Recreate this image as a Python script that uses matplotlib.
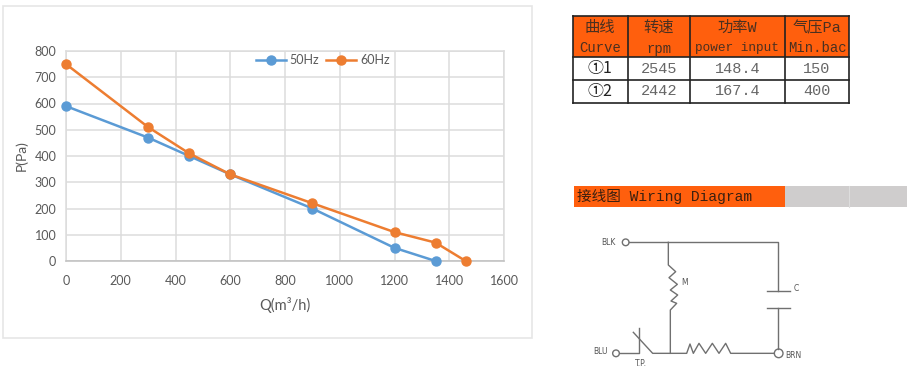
import matplotlib
matplotlib.use("Agg")
import matplotlib.pyplot as plt
from matplotlib.patches import Rectangle, Circle

W, H = 911, 372

# chart data
q_50 = [0, 300, 450, 600, 900, 1200, 1350]
p_50 = [590, 470, 400, 330, 200, 50, 0]
q_60 = [0, 300, 450, 600, 900, 1200, 1350, 1460]
p_60 = [750, 510, 410, 330, 220, 110, 70, 0]
x_ticks = [0, 200, 400, 600, 800, 1000, 1200, 1400, 1600]
y_ticks = [0, 100, 200, 300, 400, 500, 600, 700, 800]

# table data
table_head_cn = ["曲线", "转速", "功率W", "气压Pa"]
table_head_en = ["Curve", "rpm", "power input", "Min.bac"]
table_curve = ["①1", "①2"]
table_rpm = ["2545", "2442"]
table_power = ["148.4", "167.4"]
table_press = ["150", "400"]

TEXT = "#595959"
GRID = "#DCDCDC"
ORANGE = "#FF5F0D"
SERIF = ["Liberation Mono", "Noto Sans CJK SC"]
WIRE = "#707070"

fig = plt.figure(figsize=(W / 100, H / 100), dpi=100)

# overlay in pixel coordinates for frame, table and wiring diagram
bg = fig.add_axes([0, 0, 1, 1])
bg.set_xlim(0, W)
bg.set_ylim(H, 0)
bg.axis("off")
bg.add_patch(Rectangle((3, 6), 529, 332, fc="white", ec="#E6E6E6", lw=1.2))

# main chart
ax = fig.add_axes([66 / W, 1 - 261 / H, (504 - 66) / W, (261 - 51) / H])
ax.patch.set_alpha(0)
ax.plot(q_50, p_50, color="#5B9BD5", lw=1.8, marker="o", ms=6.5, clip_on=False, label="50Hz", zorder=3)
ax.plot(q_60, p_60, color="#ED7D31", lw=1.8, marker="o", ms=6.5, clip_on=False, label="60Hz", zorder=4)
ax.set_xlim(0, 1600)
ax.set_ylim(0, 800)
ax.set_xticks(x_ticks)
ax.set_yticks(y_ticks)
ax.grid(color=GRID, lw=1.1)
ax.set_axisbelow(True)
for s in ax.spines.values():
    s.set_color(GRID)
    s.set_linewidth(1.1)
ax.spines["bottom"].set_color("#BFBFBF")
ax.tick_params(length=0, labelsize=9, labelcolor=TEXT, pad=10)
ax.tick_params(axis="y", pad=7)
for lab in ax.get_xticklabels() + ax.get_yticklabels():
    lab.set_family("Lato")
ax.set_xlabel("Q(m³/h)", family="Lato", fontsize=10.5, color=TEXT, labelpad=7)
ax.set_ylabel("P(Pa)", family="Lato", fontsize=10, color=TEXT, labelpad=5)
leg = ax.legend(loc="center", bbox_to_anchor=(0.586, 0.957), ncol=2, frameon=False,
                prop={"family": "Lato", "size": 9}, handlelength=2.4, columnspacing=0.6,
                handletextpad=0.3, borderpad=0)
for t in leg.get_texts():
    t.set_color(TEXT)

# spec table
col_x = [572.5, 627.7, 689.7, 785, 849]
row_y = [15.7, 57.3, 80, 102.7]
bg.add_patch(Rectangle((col_x[0], row_y[0]), col_x[-1] - col_x[0], row_y[1] - row_y[0], fc=ORANGE, ec="none"))
for x in col_x:
    bg.plot([x, x], [row_y[0], row_y[-1]], color="#222222", lw=1.2)
for y in row_y:
    bg.plot([col_x[0], col_x[-1]], [y, y], color="#222222", lw=1.2)
rows = [table_curve, table_rpm, table_power, table_press]
head_sizes = [10, 10, 9.2, 10]
for i in range(4):
    cx = (col_x[i] + col_x[i + 1]) / 2
    bg.text(cx, 28, table_head_cn[i], family=SERIF, fontsize=11, color="#4a3020", ha="center", va="center")
    bg.text(cx, 48.5, table_head_en[i], family=SERIF, fontsize=head_sizes[i], color="#4a3020",
            ha="center", va="center")
    for j in range(2):
        cy = (row_y[j + 1] + row_y[j + 2]) / 2
        bg.text(cx, cy, rows[i][j], family=SERIF if i else ["Noto Sans CJK SC"], fontsize=11 if i else 11.5,
                color="#666666" if i else "#222222", ha="center", va="center")

# wiring diagram banner
bg.add_patch(Rectangle((573.5, 185.7), 211.5, 21, fc=ORANGE, ec="none"))
bg.add_patch(Rectangle((785, 185.7), 122, 21, fc="#CFCDCD", ec="none"))
bg.plot([849, 849], [185.7, 206.7], color="#DDDDDD", lw=0.8)
bg.text(577, 197, "接线图 Wiring Diagram", family=SERIF, fontsize=10.5, color="#3a2010", ha="left", va="center")


def zx(v):
    return 565 + v / 3


def zy(v):
    return 175 + v / 3


# wiring diagram, traced in zoomed crop coordinates
wires = [
    [(192, 202), (640, 202), (640, 347)],
    [(606, 347), (675, 347)],
    [(606, 398), (675, 398)],
    [(640, 398), (640, 522)],
    [(628, 535), (497, 535), (482, 505), (462, 535), (442, 505), (422, 535), (402, 505), (385, 535),
     (375, 507), (365, 535), (263, 535), (205, 472)],
    [(310, 202), (310, 270), (332, 290), (312, 308), (337, 328), (316, 345), (338, 360), (318, 378), (335, 385),
     (316, 405), (316, 535)],
    [(222, 460), (222, 535), (165, 535)],
]
for w in wires:
    bg.plot([zx(p[0]) for p in w], [zy(p[1]) for p in w], color=WIRE, lw=1.0)
for cx, cy, r in [(182, 202, 10), (153, 535, 10), (641, 535, 13)]:
    bg.add_patch(Circle((zx(cx), zy(cy)), r / 3, fc="white", ec=WIRE, lw=1.0))
wire_labels = [(130, 203, "BLK"), (105, 530, "BLU"), (358, 323, "M"), (695, 340, "C"), (685, 540, "BRN"), (227, 565, "T.P.")]
for x, y, s in wire_labels:
    bg.text(zx(x), zy(y), s, family="DejaVu Sans", fontsize=5.5, color="#555555", ha="center", va="center")

fig.savefig("out.png", dpi=100)
